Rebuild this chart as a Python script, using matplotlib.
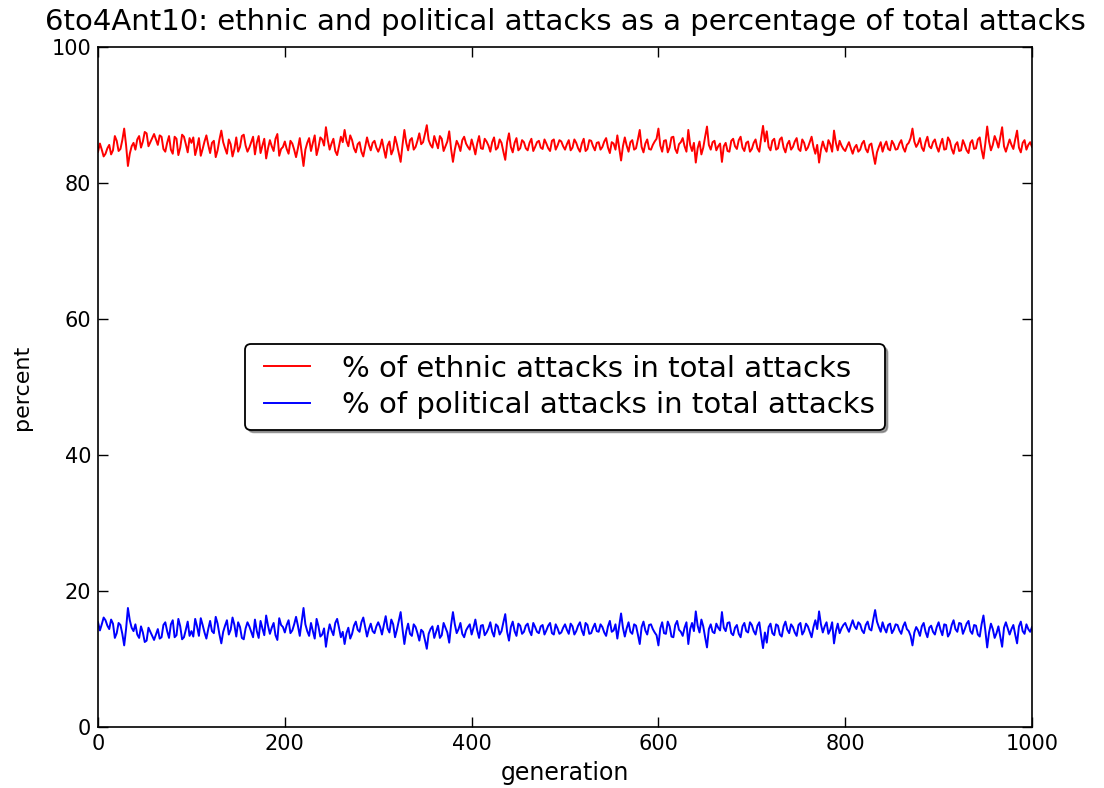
import numpy as np
import matplotlib
matplotlib.use("Agg")
import matplotlib.pyplot as plt
from matplotlib.legend_handler import HandlerLine2D

# generation 0..1000, every 2 steps
generation = np.arange(0, 1001, 2)

# % of ethnic attacks, generations 0, 4, 8, ... 1000
ethnic_even = [
    84.6, 84.9, 84.3, 85.6, 84.8, 86.2, 85.0, 88.0, 82.5, 85.4, 84.9, 86.9, 86.1,
    87.3, 86.0, 87.2, 85.6, 86.8, 84.6, 86.9, 84.3, 86.5, 85.2, 86.8, 84.5,
    85.9, 84.1, 86.6, 85.0, 87.0, 84.4, 86.2, 84.8, 87.7, 85.1, 86.4, 83.9, 86.7,
    85.3, 87.1, 84.6, 86.0, 84.2, 86.9, 85.5, 83.6, 86.3, 84.7, 87.2, 85.0,
    86.1, 84.3, 85.8, 83.8, 86.6, 82.5, 85.9, 84.7, 87.0, 85.2, 86.4, 88.2, 84.9,
    86.5, 84.1, 86.8, 87.8, 85.4, 86.3, 84.5, 86.0, 83.9, 86.7, 84.8, 86.2,
    84.6, 86.4, 83.7, 86.1, 84.9, 85.7, 83.1, 87.8, 84.8, 86.6, 85.3, 87.3, 86.0,
    88.5, 85.6, 86.9, 85.1, 86.5, 85.4, 87.6, 83.1, 86.2, 84.7, 86.8, 85.3,
    86.4, 84.2, 86.9, 85.0, 86.1, 84.6, 86.7, 85.2, 85.9, 83.4, 87.3, 84.5, 86.6,
    85.1, 86.0, 84.8, 86.5, 85.3, 86.2, 85.0, 85.8, 84.7, 86.4, 85.5, 86.1,
    84.9, 86.3, 85.2, 85.9, 84.6, 86.5, 85.0, 86.2, 84.8, 86.0, 85.3, 86.6, 84.4,
    85.8, 87.0, 83.3, 86.7, 84.6, 86.3, 85.1, 87.8, 84.5, 86.4, 84.9, 86.1,
    88.0, 84.6, 86.3, 85.2, 86.8, 84.4, 86.0, 85.4, 87.8, 84.7, 83.0, 86.1, 85.2,
    88.3, 84.9, 86.2, 85.4, 83.1, 85.9, 84.6, 86.5, 85.0, 86.8, 84.7, 86.1,
    85.0, 86.4, 84.6, 88.4, 87.6, 84.8, 86.5, 85.1, 86.7, 84.5, 86.2, 85.3, 86.6,
    84.7, 85.9, 85.2, 86.8, 84.3, 83.0, 86.1, 84.6, 85.7, 87.7, 84.8, 85.5,
    84.7, 86.0, 84.3, 85.6, 84.9, 86.2, 84.5, 85.8, 82.8, 85.3, 84.6, 86.1, 84.8,
    85.7, 85.0, 86.3, 84.6, 85.9, 88.0, 85.3, 86.6, 84.7, 86.8, 85.1, 86.4,
    84.6, 86.5, 85.0, 86.2, 84.3, 86.0, 84.8, 85.6, 84.4, 86.3, 85.1, 86.7, 83.6,
    88.3, 84.8, 86.9, 85.2, 88.2, 84.6, 86.4, 85.0, 87.7, 84.5, 86.3, 85.6,
    85.3,
]
# generations 2, 6, 10, ... 998
ethnic_odd = [
    85.8, 83.9, 85.1, 84.2, 86.9, 84.7, 86.3, 85.6, 84.3, 85.9, 86.4, 85.2, 87.5,
    85.4, 86.6, 86.4, 87.0, 85.0, 85.9, 84.9, 86.8, 84.1, 87.1, 85.7, 86.6,
    86.7, 85.2, 84.0, 86.1, 85.6, 85.9, 83.8, 86.4, 86.0, 84.3, 85.7, 85.0, 84.6,
    86.9, 85.5, 85.2, 86.8, 85.9, 84.4, 86.5, 85.1, 85.4, 86.5, 84.0, 85.3,
    85.0, 86.2, 84.9, 85.1, 84.5, 84.9, 86.6, 85.9, 84.1, 86.7, 85.5, 86.3, 85.8,
    84.7, 85.4, 86.0, 86.2, 87.0, 85.1, 85.7, 84.6, 85.3, 85.6, 85.9, 85.2,
    85.3, 85.0, 85.5, 84.2, 86.8, 84.4, 85.6, 85.9, 86.3, 84.9, 86.2, 85.7, 87.2,
    86.3, 85.2, 86.0, 86.9, 84.7, 86.1, 85.0, 84.9, 85.6, 86.3, 85.8, 84.9,
    85.4, 85.8, 85.1, 86.5, 85.5, 86.0, 84.9, 86.4, 84.6, 86.0, 85.3, 85.9, 84.8,
    86.3, 85.1, 85.9, 84.7, 86.0, 85.2, 86.4, 85.1, 86.2, 84.9, 86.3, 85.4,
    85.7, 84.8, 86.4, 85.1, 85.8, 84.7, 86.3, 85.4, 85.9, 84.9, 86.1, 85.2, 86.0,
    84.9, 85.1, 85.4, 85.5, 86.0, 84.9, 86.4, 85.3, 85.8, 85.0, 85.6, 86.5,
    85.5, 86.2, 84.5, 86.7, 85.0, 85.7, 86.6, 84.6, 85.6, 85.9, 85.1, 84.2, 86.8,
    85.6, 86.0, 84.8, 85.8, 85.4, 84.7, 86.2, 85.4, 86.3, 85.2, 85.9, 84.6,
    85.9, 85.1, 86.6, 86.1, 85.3, 86.2, 84.9, 86.4, 85.2, 85.7, 84.9, 86.1, 85.0,
    86.4, 84.8, 86.0, 85.3, 85.6, 84.9, 85.2, 86.3, 84.6, 85.9, 86.2, 85.0,
    85.4, 85.1, 85.2, 84.6, 85.8, 85.0, 85.6, 84.2, 84.5, 86.0, 85.5, 85.0, 86.2,
    84.9, 85.8, 85.2, 85.6, 86.6, 86.1, 85.8, 85.2, 86.0, 85.4, 86.0, 85.3,
    85.7, 84.9, 86.7, 85.0, 85.6, 84.7, 86.3, 84.8, 85.9, 85.0, 86.4, 84.9, 85.8,
    86.1, 85.6, 86.2, 86.7, 85.4, 85.5, 85.6, 86.4, 85.2, 85.9, 84.9, 86.0,
]

ethnic_pct = np.empty(len(generation))
ethnic_pct[0::2] = ethnic_even
ethnic_pct[1::2] = ethnic_odd
# the two shares add up to 100 %
political_pct = 100 - ethnic_pct

plt.rcParams['font.family'] = 'DejaVu Sans'
plt.rcParams['xtick.direction'] = 'in'
plt.rcParams['ytick.direction'] = 'in'
plt.rcParams['xtick.top'] = True
plt.rcParams['ytick.right'] = True

fig = plt.figure(figsize=(11.04, 7.88), dpi=100)
ax = fig.add_axes([0.0888, 0.0774, 0.846, 0.863])

ax.plot(generation, ethnic_pct, color='r', lw=1.4,
        label='% of ethnic attacks in total attacks')
ax.plot(generation, political_pct, color='b', lw=1.4,
        label='% of political attacks in total attacks')

ax.set_xlim(0, 1000)
ax.set_ylim(0, 100)
ax.set_xticks(range(0, 1001, 200))
ax.set_yticks(range(0, 101, 20))
ax.tick_params(labelsize=15, length=7, width=1, pad=5)
for s in ax.spines.values():
    s.set_linewidth(1.2)

ax.set_title('6to4Ant10: ethnic and political attacks as a percentage of total attacks',
             fontsize=21, pad=12)
ax.set_xlabel('generation', fontsize=17, labelpad=5)
ax.set_ylabel('percent', fontsize=16, labelpad=14)

leg = ax.legend(loc='center', fontsize=21, shadow=True, fancybox=True,
                handlelength=1.85, handletextpad=1.1, borderpad=0.35,
                labelspacing=0.3, framealpha=1,
                handler_map={plt.Line2D: HandlerLine2D(xpad=0.3)})
leg.get_frame().set_edgecolor('black')
leg.get_frame().set_linewidth(1.3)

fig.savefig('out.png', dpi=100, facecolor='white')
